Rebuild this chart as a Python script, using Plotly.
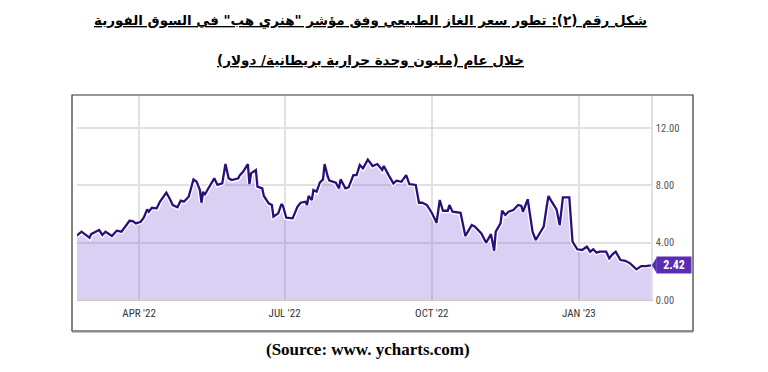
import plotly.graph_objects as go

# ---- data ----
dates = ["2022-02-21","2022-02-24","2022-02-26","2022-03-01","2022-03-02","2022-03-07","2022-03-09","2022-03-11","2022-03-15","2022-03-18",
         "2022-03-21","2022-03-24","2022-03-26","2022-03-28","2022-03-30","2022-04-02","2022-04-04","2022-04-06","2022-04-07","2022-04-09",
         "2022-04-12","2022-04-14","2022-04-18","2022-04-20","2022-04-22","2022-04-25","2022-04-27","2022-04-29","2022-05-02","2022-05-05",
         "2022-05-07","2022-05-09","2022-05-10","2022-05-11","2022-05-12","2022-05-14","2022-05-15","2022-05-18","2022-05-20","2022-05-23",
         "2022-05-25","2022-05-27","2022-05-29","2022-06-02","2022-06-03","2022-06-05","2022-06-08","2022-06-09","2022-06-10","2022-06-13",
         "2022-06-14","2022-06-17","2022-06-18","2022-06-21","2022-06-23","2022-06-24","2022-06-27","2022-06-29","2022-06-30","2022-07-02",
         "2022-07-06","2022-07-09","2022-07-11","2022-07-14","2022-07-15","2022-07-16","2022-07-18","2022-07-19","2022-07-21","2022-07-23",
         "2022-07-25","2022-07-26","2022-07-28","2022-07-29","2022-08-02","2022-08-04","2022-08-05","2022-08-08","2022-08-10","2022-08-13",
         "2022-08-15","2022-08-17","2022-08-19","2022-08-22","2022-08-25","2022-08-28","2022-08-31","2022-09-01","2022-09-04","2022-09-07",
         "2022-09-09","2022-09-12","2022-09-15","2022-09-17","2022-09-21","2022-09-23","2022-09-25","2022-09-28","2022-10-01","2022-10-04",
         "2022-10-06","2022-10-08","2022-10-11","2022-10-12","2022-10-14","2022-10-19","2022-10-22","2022-10-26","2022-10-28","2022-11-01",
         "2022-11-04","2022-11-07","2022-11-09","2022-11-10","2022-11-13","2022-11-14","2022-11-16","2022-11-18","2022-11-21","2022-11-24",
         "2022-11-26","2022-11-27","2022-11-30","2022-12-03","2022-12-05","2022-12-07","2022-12-10","2022-12-12","2022-12-13","2022-12-15",
         "2022-12-18","2022-12-20","2022-12-22","2022-12-26","2022-12-28","2022-12-31","2023-01-03","2023-01-06","2023-01-08","2023-01-10",
         "2023-01-12","2023-01-14","2023-01-18","2023-01-20","2023-01-22","2023-01-24","2023-01-27","2023-01-30","2023-02-02","2023-02-06",
         "2023-02-09","2023-02-12","2023-02-15"]

prices = [4.49,4.77,4.6,4.35,4.6,4.88,4.54,4.77,4.47,4.84,
          4.77,5.23,5.53,5.51,5.35,5.46,5.77,6.33,6.16,6.44,
          6.4,6.86,7.49,7.1,6.63,6.47,6.93,6.86,7.21,8.42,
          8.25,7.68,6.79,7.56,7.33,7.73,7.91,8.49,8.03,8.14,
          9.49,8.49,8.37,8.49,8.72,8.95,9.49,8.09,8.84,9.07,
          7.91,7.79,7.26,6.75,6.63,5.81,6.05,6.7,6.56,5.74,
          5.7,6.51,6.79,6.86,6.63,7.26,6.98,7.68,7.56,8.19,
          8.42,9.49,8.6,8.33,8.19,7.79,8.42,7.79,7.86,8.72,
          8.72,9.42,9.19,9.8,9.35,9.49,9.07,9.35,8.72,8.14,
          8.33,8.25,8.72,8.09,8.03,6.79,6.79,6.63,6.09,5.39,
          6.98,6.23,6.23,6.63,6.16,6.09,4.47,5.23,5.12,4.65,
          4.0,4.6,3.44,4.77,5.35,6.23,5.93,6.16,6.28,6.63,
          6.56,6.16,7.03,4.77,4.19,4.54,5.12,6.63,7.26,6.86,
          6.33,5.23,7.17,7.17,4.07,3.54,3.49,3.72,3.37,3.54,
          3.3,3.37,3.37,2.91,3.19,3.37,2.79,2.74,2.56,2.14,
          2.37,2.37,2.42]

x_tick_vals = ["2022-04-01", "2022-07-01", "2022-10-01", "2023-01-01"]
x_tick_text = ["APR '22", "JUL '22", "OCT '22", "JAN '23"]
y_tick_vals = [0, 4, 8, 12]

title_line1 = 'شكل رقم (٢): تطور سعر الغاز الطبيعي وفق مؤشر "هنري هب" في السوق الفورية'
title_line2 = 'خلال عام (مليون وحدة حرارية بريطانية/ دولار)\u200f'
source_text = "(Source: www. ycharts.com)"

LINE = "#2a0f7c"
FILL = "rgba(120,80,210,0.27)"
TAG = "#5a2db4"
TICK_FONT = "Roboto Condensed, Liberation Sans Narrow, Roboto, sans-serif"

fig = go.Figure()
fig.add_trace(go.Scatter(x=dates, y=prices, mode="lines", fill="tozeroy",
                         fillcolor=FILL, line=dict(width=0, color=FILL),
                         hoverinfo="skip", showlegend=False))
fig.add_trace(go.Scatter(x=dates, y=prices, mode="lines",
                         line=dict(width=4.8, color="white"),
                         hoverinfo="skip", showlegend=False))
fig.add_trace(go.Scatter(x=dates, y=prices, mode="lines",
                         line=dict(width=2.3, color=LINE),
                         showlegend=False))

last_val = prices[-1]

fig.update_layout(
    width=768, height=372,
    margin=dict(l=77, r=117, t=96, b=72),
    paper_bgcolor="white", plot_bgcolor="white",
    xaxis=dict(range=["2022-02-21 04:00", "2023-02-15 02:00"],
               tickvals=x_tick_vals, ticktext=x_tick_text,
               showgrid=True, gridcolor="#e1e1e1", gridwidth=1.5,
               showline=True, linecolor="#c8c8c8", linewidth=1,
               ticks="", ticklabelstandoff=3,
               tickfont=dict(family=TICK_FONT, size=11, color="#333"),
               zeroline=False),
    yaxis=dict(range=[0, 14.24], side="right", tickvals=y_tick_vals,
               tickformat=".2f",
               showgrid=True, gridcolor="#e1e1e1", gridwidth=1.5,
               showline=True, linecolor="#e1e1e1", linewidth=1.5,
               ticks="", ticklabelstandoff=1,
               tickfont=dict(family=TICK_FONT, size=10.5, color="#555"),
               zeroline=False),
)

# framed border around the chart
fig.add_shape(type="rect", xref="paper", yref="paper",
              x0=-0.0087, x1=1.0732, y0=-0.152, y1=1.0049,
              line=dict(color="#333", width=1.2), layer="above")
fig.add_shape(type="line", xref="paper", yref="paper",
              x0=-0.0087, x1=1.0732, y0=-0.155, y1=-0.155,
              line=dict(color="#888", width=2), layer="above")

# last-value tag
fig.add_annotation(xref="paper", yref="y", x=1.0095, y=last_val,
                   xanchor="left", yanchor="middle", showarrow=False,
                   text=f"<b>{last_val:.2f}</b>", bgcolor=TAG, width=34, height=16,
                   borderpad=0,
                   font=dict(family=TICK_FONT, size=12, color="white"))
fig.add_shape(type="path", xref="paper", yref="y",
              path=f"M 1.0015,{last_val} L 1.0100,{last_val + 0.56} L 1.0100,{last_val - 0.56} Z",
              fillcolor=TAG, line=dict(width=0), layer="above")

# titles
title_font = dict(family="DejaVu Sans, Arial, sans-serif", size=13.5, color="black")
fig.add_annotation(xref="paper", yref="paper", x=0.512, y=1.37,
                   xanchor="center", yanchor="middle", showarrow=False,
                   text=f'<b><span style="text-decoration:underline">{title_line1}</span></b>',
                   font=title_font)
fig.add_annotation(xref="paper", yref="paper", x=0.512, y=1.175,
                   xanchor="center", yanchor="middle", showarrow=False,
                   text=f'<b><span style="text-decoration:underline">{title_line2}</span></b>',
                   font=title_font)
fig.add_annotation(xref="paper", yref="paper", x=0.507, y=-0.245,
                   xanchor="center", yanchor="middle", showarrow=False,
                   text=f"<b>{source_text}</b>",
                   font=dict(family="Liberation Serif, Times New Roman, serif", size=17, color="black"))

fig.write_html("out.html")
